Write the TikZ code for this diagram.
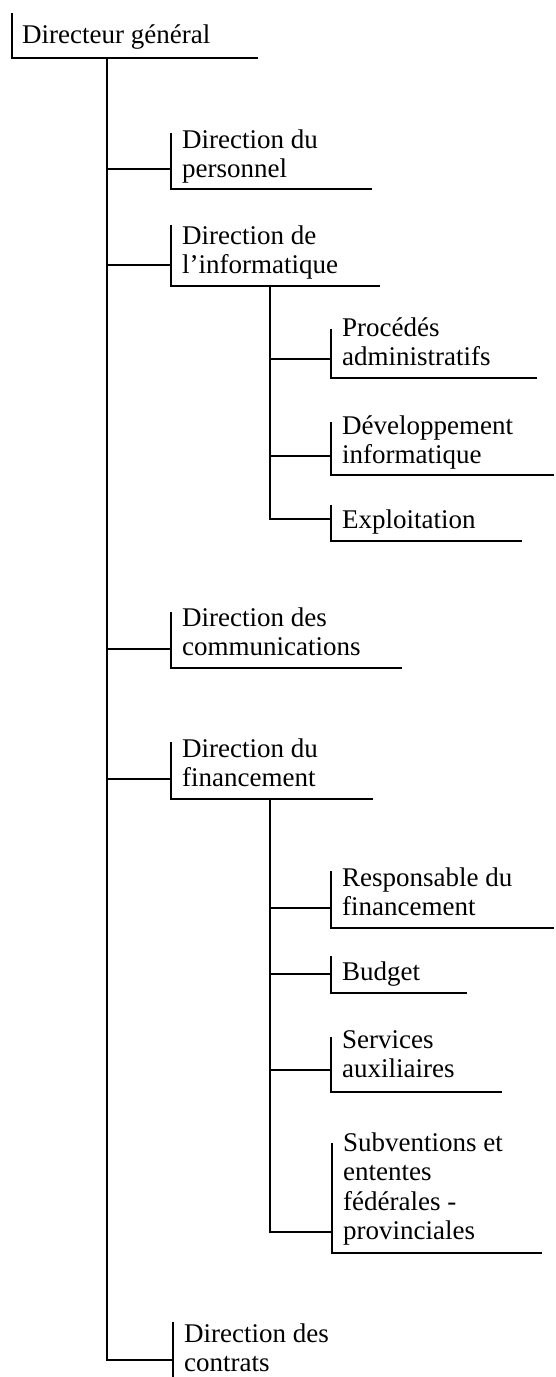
\documentclass[tikz,border=0pt]{standalone}
\usepackage{fontspec}
\setmainfont{Liberation Serif}
\newcommand\blk[1]{\vtop{\baselineskip=29.5pt\lineskip=0pt\lineskiplimit=-100pt\halign{##\hfil\cr#1\crcr}}}
% name, barx, top, bottom, right, baseline, connector y, text
\newcommand\orgbox[8]{%
  \coordinate (#1-in) at (#2,#7);
  \node[txt] (#1) at ({#2+11},#6) {\blk{#8}};
  \draw[frame] (#2,#3) -- (#2,#4) -- (#5,#4);
}
\begin{document}
\begin{tikzpicture}[x=1pt,y=-1pt,
  txt/.style={anchor=base west,inner sep=0pt,font=\fontsize{27}{29.5}\selectfont},
  frame/.style={line width=1.9pt,line join=miter},
  link/.style={line width=1.9pt,line join=miter}]
\useasboundingbox (0,0) rectangle (555,1377);

% top box
\node[txt] (dg) at (22,43) {\blk{Directeur g\'en\'eral}};
\draw[frame] (12,13) -- (12,58) -- (258,58);
\coordinate (dg-out) at (107,58);

% level 1
\orgbox{pers}{171}{133}{189}{372}{148}{169}{Direction du\cr personnel}
\orgbox{info}{171}{225}{286}{380}{244}{265}{Direction de\cr l'informatique}
\orgbox{comm}{171}{612}{668}{402}{626}{649}{Direction des\cr communications}
\orgbox{fin}{171}{742}{799}{373}{757}{779}{Direction du\cr financement}
\coordinate (contr-in) at (173,1360);
\node[txt] (contr) at (184,1342) {\blk{Direction des\cr contrats}};
\draw[frame] (173,1322) -- (173,1377);

% level 2 under informatique
\coordinate (info-out) at (270,286);
\orgbox{proc}{331}{329}{378}{537}{336}{359}{Proc\'ed\'es\cr administratifs}
\orgbox{dev}{331}{422}{475}{554}{434}{456}{D\'eveloppement\cr informatique}
\orgbox{expl}{331}{505}{541}{522}{528}{519}{Exploitation}

% level 2 under financement
\coordinate (fin-out) at (270,799);
\orgbox{resp}{331}{871}{928}{554}{886}{908}{Responsable du\cr financement}
\orgbox{budg}{331}{956}{993}{467}{980}{974}{Budget}
\orgbox{serv}{331}{1037}{1092}{502}{1048}{1070}{Services\cr auxiliaires}
\orgbox{subv}{332}{1143}{1253}{542}{1151}{1232}{Subventions et\cr ententes\cr f\'ed\'erales -\cr provinciales}

% main trunk
\draw[link] (dg-out) -- (dg-out |- contr-in) -- (contr-in);
\draw[link] (dg-out |- pers-in) -- (pers-in);
\draw[link] (dg-out |- info-in) -- (info-in);
\draw[link] (dg-out |- comm-in) -- (comm-in);
\draw[link] (dg-out |- fin-in) -- (fin-in);

% informatique sub-trunk
\draw[link] (info-out) -- (info-out |- expl-in) -- (expl-in);
\draw[link] (info-out |- proc-in) -- (proc-in);
\draw[link] (info-out |- dev-in) -- (dev-in);

% financement sub-trunk
\draw[link] (fin-out) -- (fin-out |- subv-in) -- (subv-in);
\draw[link] (fin-out |- resp-in) -- (resp-in);
\draw[link] (fin-out |- budg-in) -- (budg-in);
\draw[link] (fin-out |- serv-in) -- (serv-in);
\end{tikzpicture}
\end{document}
